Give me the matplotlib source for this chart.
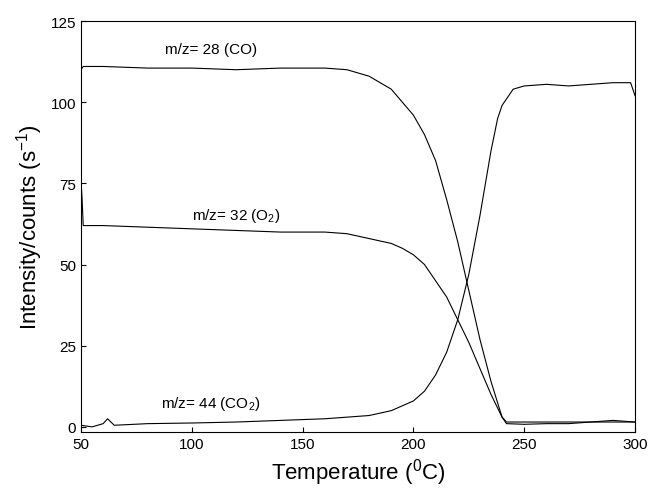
import numpy as np
import matplotlib.pyplot as plt

plt.rcParams["font.family"] = ["Liberation Sans", "DejaVu Sans"]
plt.rcParams["mathtext.fontset"] = "custom"
plt.rcParams["mathtext.rm"] = "Liberation Sans"
plt.rcParams["mathtext.default"] = "rm"

# Values
temp_co = [50, 51, 60, 80, 100, 120, 140, 160, 170, 180, 190, 200, 205, 210, 215, 220, 225, 230, 235, 240, 242, 250, 260, 270, 280, 290, 300]
co = [110, 111, 111, 110.5, 110.5, 110, 110.5, 110.5, 110, 108, 104, 96, 90, 82, 70, 57, 42, 27, 14, 3, 1.5, 1.5, 1.5, 1.5, 1.5, 2, 1.5]

temp_o2 = [50, 50.5, 51, 60, 80, 100, 120, 140, 160, 170, 180, 190, 195, 200, 205, 210, 215, 220, 225, 230, 235, 240, 242, 250, 260, 270, 280, 290, 300]
o2 = [76, 70, 62, 62, 61.5, 61, 60.5, 60, 60, 59.5, 58, 56.5, 55, 53, 50, 45, 40, 33, 26, 18, 10, 3, 1, 0.8, 1, 1, 1.5, 1.5, 1.5]

temp_co2 = [50, 55, 60, 62, 65, 80, 100, 120, 140, 160, 180, 190, 200, 205, 210, 215, 220, 225, 230, 235, 238, 240, 245, 250, 260, 270, 280, 290, 298, 300]
co2 = [0.5, 0, 1, 2.5, 0.5, 1, 1.2, 1.5, 2, 2.5, 3.5, 5, 8, 11, 16, 23, 33, 47, 65, 85, 95, 99, 104, 105, 105.5, 105, 105.5, 106, 106, 102]

fig, ax = plt.subplots(figsize=(6.48, 4.89), dpi=100)
for t, v in [(temp_co, co), (temp_o2, o2), (temp_co2, co2)]:
    ax.plot(t, v, color="black", lw=0.8)

ax.set_xlim(50, 300)
ax.set_ylim(-1.5, 125)
ax.set_xticks([50, 100, 150, 200, 250, 300])
ax.set_yticks([0, 25, 50, 75, 100, 125])
ax.tick_params(direction="in", labelsize=11)
ax.set_xlabel("Temperature ($^0$C)", fontsize=16)
ax.set_ylabel("Intensity/counts (s$^{-1}$)", fontsize=16)

ax.text(88, 115, "m/z= 28 (CO)", fontsize=11)
ax.text(100, 64, "m/z= 32 (O$_2$)", fontsize=11)
ax.text(86, 6, "m/z= 44 (CO$_2$)", fontsize=11)

plt.subplots_adjust(left=0.125, right=0.98, top=0.955, bottom=0.115)
plt.savefig("out.png")
